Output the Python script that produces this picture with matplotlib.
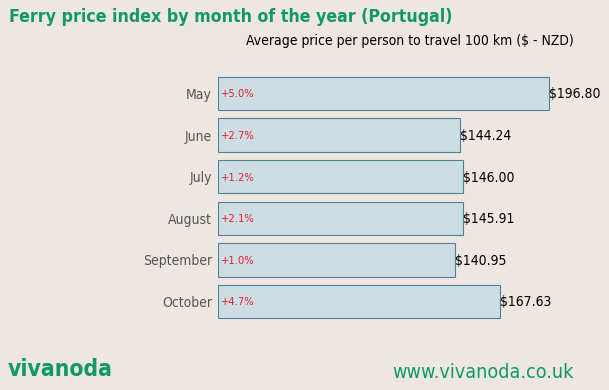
import matplotlib
matplotlib.use("Agg")
import matplotlib.pyplot as plt
from matplotlib import font_manager as fm
import os

months = ["May", "June", "July", "August", "September", "October"]
prices = [196.80, 144.24, 146.00, 145.91, 140.95, 167.63]
changes = ["+5.0%", "+2.7%", "+1.2%", "+2.1%", "+1.0%", "+4.7%"]

files = fm.findSystemFonts()
def find(name):
    for f in files:
        if os.path.basename(f) == name:
            return f
    return None

cond = find("DejaVuSansCondensed.ttf")
condb = find("DejaVuSansCondensed-Bold.ttf")

def fp(size, bold=False):
    f = condb if bold else cond
    if f:
        return fm.FontProperties(fname=f, size=size)
    return fm.FontProperties(family="DejaVu Sans", size=size,
                             weight="bold" if bold else "normal")

bg = "#EEE6E0"
green = "#11995E"

fig = plt.figure(figsize=(6.09, 3.90), dpi=100)
fig.patch.set_facecolor(bg)
ax = fig.add_axes([217.5/609, 1-322.3/390, (578.6-217.5)/609, (322.3-72.7)/390])
ax.set_facecolor(bg)

y = list(range(len(months)))
ax.barh(y, prices, height=0.8, color="#CCDDE3", edgecolor="#4F7F99", linewidth=0.8)
ax.set_xlim(0, max(prices) * 1.0894)
ax.set_ylim(len(months) - 0.5, -0.5)
for s in ax.spines.values():
    s.set_visible(False)
ax.set_xticks([])
ax.set_yticks(y)
ax.set_yticklabels(months, color="#555555")
ax.tick_params(axis="y", length=0, pad=4)
for t in ax.yaxis.get_major_ticks():
    t.label1.set_fontproperties(fp(10))
    t.label1.set_verticalalignment("center_baseline")

for i, (p, c) in enumerate(zip(prices, changes)):
    ax.annotate(f"${p:.2f}", (p, i), xytext=(0, -0.7), textcoords="offset points",
                va="center", ha="left", fontproperties=fp(10), color="black")
    ax.annotate(c, (0, i), xytext=(2.5, -0.7), textcoords="offset points",
                va="center", ha="left", fontproperties=fp(8), color="#E8202A")

fig.text(9/609, 1-17/390, "Ferry price index by month of the year (Portugal)",
         fontproperties=fp(12.7, True), color=green, va="center", ha="left")
fig.text(574/609, 1-41/390, "Average price per person to travel 100 km ($ - NZD)",
         fontproperties=fp(10), color="black", va="center", ha="right")
fig.text(7.5/609, 1-370/390, "vivanoda", fontproperties=fp(16.4, True),
         color=green, va="center", ha="left")
fig.text(574/609, 1-373/390, "www.vivanoda.co.uk", fontproperties=fp(14.1),
         color=green, va="center", ha="right")

fig.savefig("out.png", dpi=100, facecolor=bg)
